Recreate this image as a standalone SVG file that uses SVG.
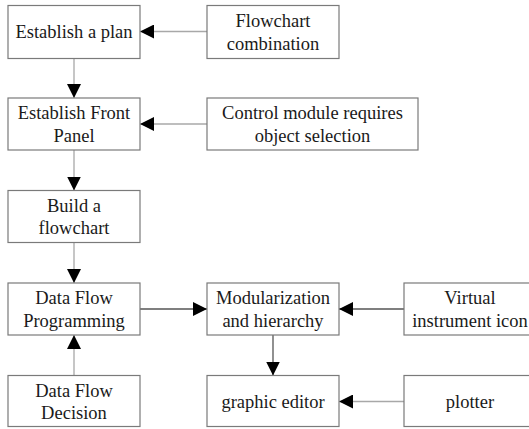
<svg xmlns="http://www.w3.org/2000/svg" width="529" height="429" viewBox="0 0 529 429">
<style>
.box{fill:#fff;stroke:#7a7a7a;stroke-width:1.2}
.lt{stroke:#a8a8a8;stroke-width:1.3;fill:none}
.dk{stroke:#555;stroke-width:1.3;fill:none}
</style>
<defs>
<marker id="ah" markerUnits="userSpaceOnUse" markerWidth="14" markerHeight="14" viewBox="0 0 12 12" refX="12" refY="6" orient="auto">
<path d="M0,0 L12,6 L0,12 Z" fill="#000"/>
</marker>
</defs>
<rect width="529" height="429" fill="#fff"/>
<g id="connectors">
<line class="lt" x1="207" y1="31.5" x2="140" y2="31.5" marker-end="url(#ah)"/>
<line class="lt" x1="74" y1="58.5" x2="74" y2="98" marker-end="url(#ah)"/>
<line class="lt" x1="207" y1="124" x2="140" y2="124" marker-end="url(#ah)"/>
<line class="lt" x1="74" y1="150" x2="74" y2="190.5" marker-end="url(#ah)"/>
<line class="lt" x1="74" y1="242.5" x2="74" y2="283" marker-end="url(#ah)"/>
<line class="dk" x1="140" y1="309" x2="207" y2="309" marker-end="url(#ah)"/>
<line class="dk" x1="404" y1="309" x2="339" y2="309" marker-end="url(#ah)"/>
<line class="dk" x1="273" y1="335" x2="273" y2="375.5" marker-end="url(#ah)"/>
<line class="lt" x1="74" y1="375.5" x2="74" y2="335" marker-end="url(#ah)"/>
<line class="lt" x1="404" y1="401.5" x2="339" y2="401.5" marker-end="url(#ah)"/>
</g>
<g font-family="Liberation Serif, serif" font-size="18.5" fill="#1a1a1a" text-anchor="middle">
<g id="n1"><rect class="box" x="8" y="5.5" width="132" height="53"/><text x="74" y="38">Establish a plan</text></g>
<g id="n2"><rect class="box" x="207" y="5.5" width="132" height="53"/><text x="273" y="27">Flowchart</text><text x="273" y="49.7">combination</text></g>
<g id="n3"><rect class="box" x="8" y="98" width="132" height="52"/><text x="74" y="119">Establish Front</text><text x="74" y="141.7">Panel</text></g>
<g id="n4"><rect class="box" x="207" y="98" width="211" height="52"/><text x="312.5" y="119">Control module requires</text><text x="312.5" y="141.7">object selection</text></g>
<g id="n5"><rect class="box" x="8" y="190.5" width="132" height="52"/><text x="74" y="211.5">Build a</text><text x="74" y="234.2">flowchart</text></g>
<g id="n6"><rect class="box" x="8" y="283" width="132" height="52"/><text x="74" y="304">Data Flow</text><text x="74" y="326.7">Programming</text></g>
<g id="n7"><rect class="box" x="207" y="283" width="132" height="52"/><text x="273" y="304">Modularization</text><text x="273" y="326.7">and hierarchy</text></g>
<g id="n8"><rect class="box" x="404" y="283" width="132" height="52"/><text x="470" y="304">Virtual</text><text x="470" y="326.7">instrument icon</text></g>
<g id="n9"><rect class="box" x="8" y="375.5" width="132" height="51"/><text x="74" y="396.5">Data Flow</text><text x="74" y="419.2">Decision</text></g>
<g id="n10"><rect class="box" x="207" y="375.5" width="132" height="51"/><text x="273" y="407.5">graphic editor</text></g>
<g id="n11"><rect class="box" x="404" y="375.5" width="132" height="51"/><text x="470" y="407.5">plotter</text></g>
</g>
</svg>
